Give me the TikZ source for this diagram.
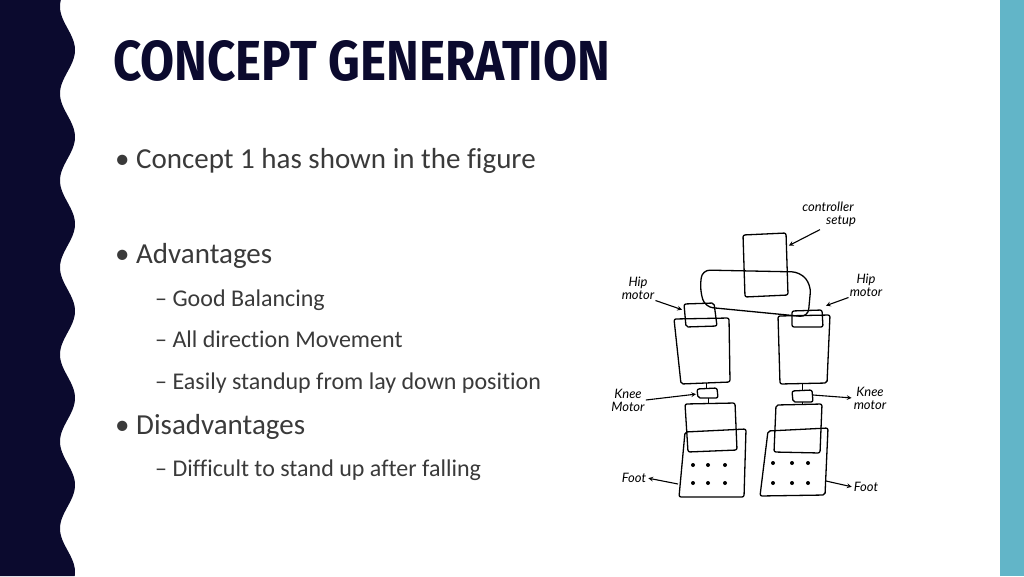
\documentclass[tikz,border=0pt]{standalone}
\usepackage{fontspec}
\setmainfont{Carlito}[Ligatures={NoCommon}]
\newfontfamily\titlefont{Fira Sans}
\newfontfamily\handfont{Lato}
\usetikzlibrary{positioning}
\definecolor{navy}{HTML}{0B0A2E}
\definecolor{stripe}{HTML}{62B5C8}
\definecolor{bodytext}{HTML}{3A3A3A}

\begin{document}
\begin{tikzpicture}[%
    x=1pt,
    y=-1pt,
    >=stealth,
    sketch/.style={%
      draw=black,
      line width=1.3pt,
      line join=round,
      rounded corners=2pt
    },
    hand/.style={%
      font=\fontsize{13}{13}\selectfont\handfont\itshape,
      align=center,
      inner sep=1pt
    },
    point/.style={->, line width=1.1pt, shorten >=1pt},
    bullet/.style={anchor=base west, text=bodytext, inner sep=0pt},
    sub/.style={bullet, font=\fontsize{24}{24}\selectfont},
    main/.style={bullet, font=\fontsize{29}{29}\selectfont}
  ]
    \useasboundingbox (0,0) rectangle (1024,576);
    \fill[white] (0,0) rectangle (1024,576);
    % left wave band and right stripe
    \fill[navy] (0,0) -- plot[variable=\t, domain=0:576, samples=300]
      ({67.5+7.5*sin(4.138*\t-117)}, \t) -- (0,576) -- cycle;
    \fill[stripe] (1000,0) rectangle (1024,576);

    \node[anchor=south west, inner sep=0pt, text=navy] (title) at (113,82)
      {\resizebox{497pt}{40pt}{\titlefont\bfseries CONCEPT GENERATION}};

    \node[main] (b1) at (115,168) {\textbullet\ Concept 1 has shown in the figure};
    \node[main] (b2) at (115,263) {\textbullet\ Advantages};
    \node[sub]  (s1) at (155,306) {-- Good Balancing};
    \node[sub]  (s2) at (155,347) {-- All direction Movement};
    \node[sub]  (s3) at (155,389) {-- Easily standup from lay down position};
    \node[main] (b3) at (115,434) {\textbullet\ Disadvantages};
    \node[sub]  (s4) at (155,476) {-- Difficult to stand up after falling};

    % robot sketch
    \draw[sketch] (743,235) -- (786,233) -- (788,295) -- (745,297) -- cycle;
    \draw[sketch, rounded corners=8pt] (702,270) -- (800,272) -- (811,285) -- (808,317) -- (705,307) -- (700,290) -- cycle;
    \draw[sketch] (684,304) -- (714,303) -- (717,326) -- (686,327) -- cycle;
    \draw[sketch] (674,319) -- (729,318) -- (730,382) -- (681,384) -- cycle;
    \draw[sketch] (697,389) -- (717,388) -- (718,398) -- (698,398) -- cycle;
    \draw[sketch] (685,404) -- (735,403) -- (737,450) -- (688,452) -- cycle;
    \draw[sketch] (685,432) -- (746,429) -- (744,497) -- (679,497) -- cycle;
    \draw[sketch] (792,311) -- (822,310) -- (823,327) -- (792,327) -- cycle;
    \draw[sketch] (778,316) -- (830,315) -- (827,383) -- (780,384) -- cycle;
    \draw[sketch] (792,391) -- (812,390) -- (813,402) -- (793,402) -- cycle;
    \draw[sketch] (776,405) -- (822,404) -- (820,453) -- (774,452) -- cycle;
    \draw[sketch] (768,431) -- (828,428) -- (825,495) -- (760,496) -- cycle;
    \draw[line width=1pt] (706,383) -- (706,389) (708,398) -- (708,404)
      (802,384) -- (802,391) (802,402) -- (802,405);
    \foreach \dx in {693,708,725} \foreach \dy in {465,483}
      \fill (\dx,\dy) circle (2pt);
    \foreach \dx in {773,792,808} \foreach \dy in {463,483}
      \fill (\dx,\dy) circle (2pt);

    \coordinate (ctrl) at (788,246);
    \coordinate (hipL) at (683,310);
    \coordinate (hipR) at (825,306);
    \coordinate (kneeL) at (697,394);
    \coordinate (kneeR) at (813,395);
    \coordinate (footL) at (678,484);
    \coordinate (footR) at (826,481);

    \node[hand] (lctrl)  at (828,214) {controller\\ \hspace{2em}setup};
    \node[hand] (lhipL)  at (638,288) {Hip\\ motor};
    \node[hand] (lhipR)  at (866,285) {Hip\\ motor};
    \node[hand] (lkneeL) at (628,400) {Knee\\ Motor};
    \node[hand] (lkneeR) at (870,398) {Knee\\ motor};
    \node[hand] (lfootL) at (634,478) {Foot};
    \node[hand] (lfootR) at (866,487) {Foot};

    \draw[point] (lctrl.south) ++(-8,2) coordinate (a) -- (ctrl);
    \draw[point] (lhipL.south east) -- (hipL);
    \draw[point] (lhipR.south west) -- (hipR);
    \draw[point] (lkneeL.east) -- (kneeL);
    \draw[point] (kneeR) -- (lkneeR.west);
    \draw[point] (footL) -- (lfootL.east);
    \draw[point] (footR) -- (lfootR.west);
  \end{tikzpicture}
\end{document}
